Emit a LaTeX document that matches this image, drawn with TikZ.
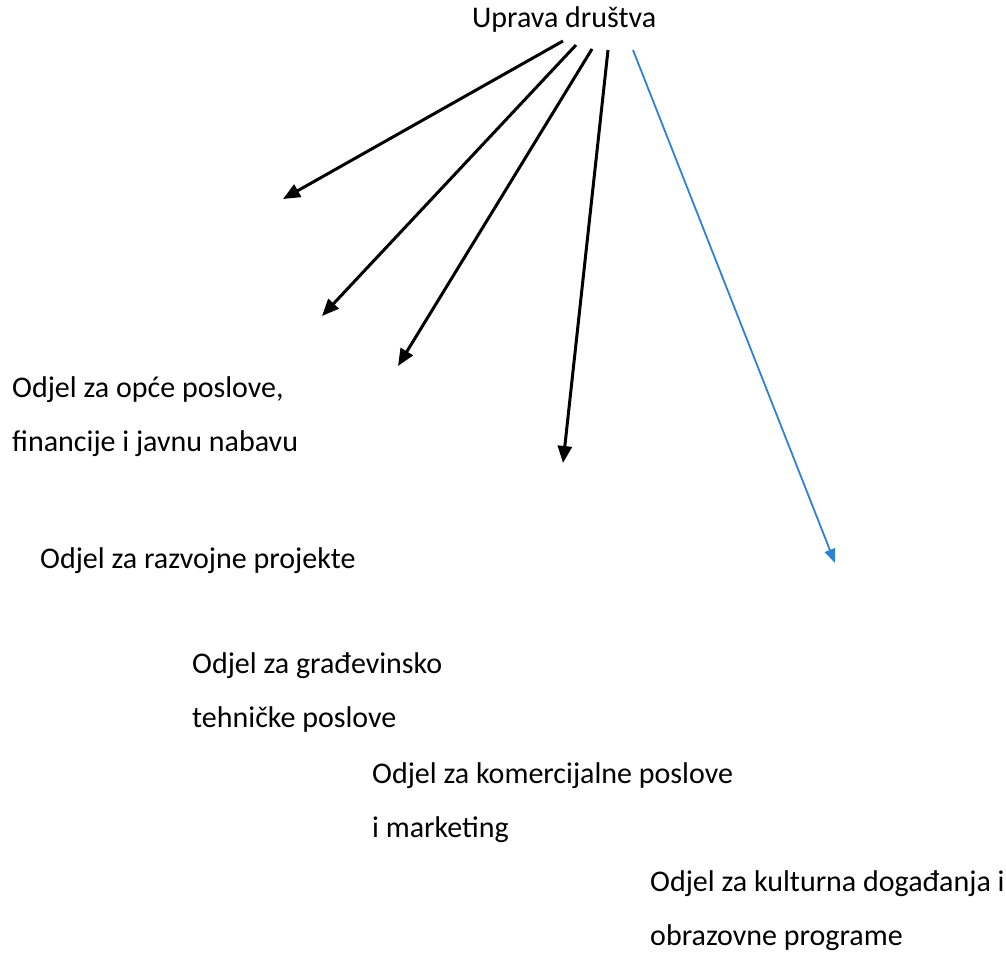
\documentclass[tikz,border=0pt]{standalone}
\usepackage{fontspec}
\setmainfont{Carlito}
\usetikzlibrary{arrows.meta}
\definecolor{arrowblue}{RGB}{46,130,214}
\tikzset{
  lbl/.style={anchor=base west, inner sep=0pt, align=left, font=\fontsize{30}{54}\selectfont},
  blackarrow/.style={line width=3pt, -{Triangle[length=17pt,width=14pt]}},
  bluearrow/.style={draw=arrowblue, line width=1.8pt, -{Triangle[length=14pt,width=11pt]}, arrowblue}
}
\begin{document}
\begin{tikzpicture}[x=1pt,y=-1pt]
\useasboundingbox (0,0) rectangle (1006,962);
% base west of a two-line node = baseline of its last line
\node[lbl] (t) at (472,27) {Uprava društva};
\node[lbl] (a) at (12,451) {Odjel za opće poslove,\\financije i javnu nabavu};
\node[lbl] (b) at (40,568) {Odjel za razvojne projekte};
\node[lbl] (c) at (192,727) {Odjel za građevinsko\\tehničke poslove};
\node[lbl] (d) at (372,837) {Odjel za komercijalne poslove\\i marketing};
\node[lbl] (e) at (650,945) {Odjel za kulturna događanja i\\obrazovne programe};
\coordinate (s1) at (563,41);
\coordinate (s2) at (576,45);
\coordinate (s3) at (592,49);
\coordinate (s4) at (608,50);
\coordinate (s5) at (633,50);
\coordinate (e1) at (283,199);
\coordinate (e2) at (322,316);
\coordinate (e3) at (398,366);
\coordinate (e4) at (563,463);
\coordinate (e5) at (835,563);
\draw[blackarrow] (s1) -- (e1);
\draw[blackarrow] (s2) -- (e2);
\draw[blackarrow] (s3) -- (e3);
\draw[blackarrow] (s4) -- (e4);
\draw[bluearrow] (s5) -- (e5);
\end{tikzpicture}
\end{document}
